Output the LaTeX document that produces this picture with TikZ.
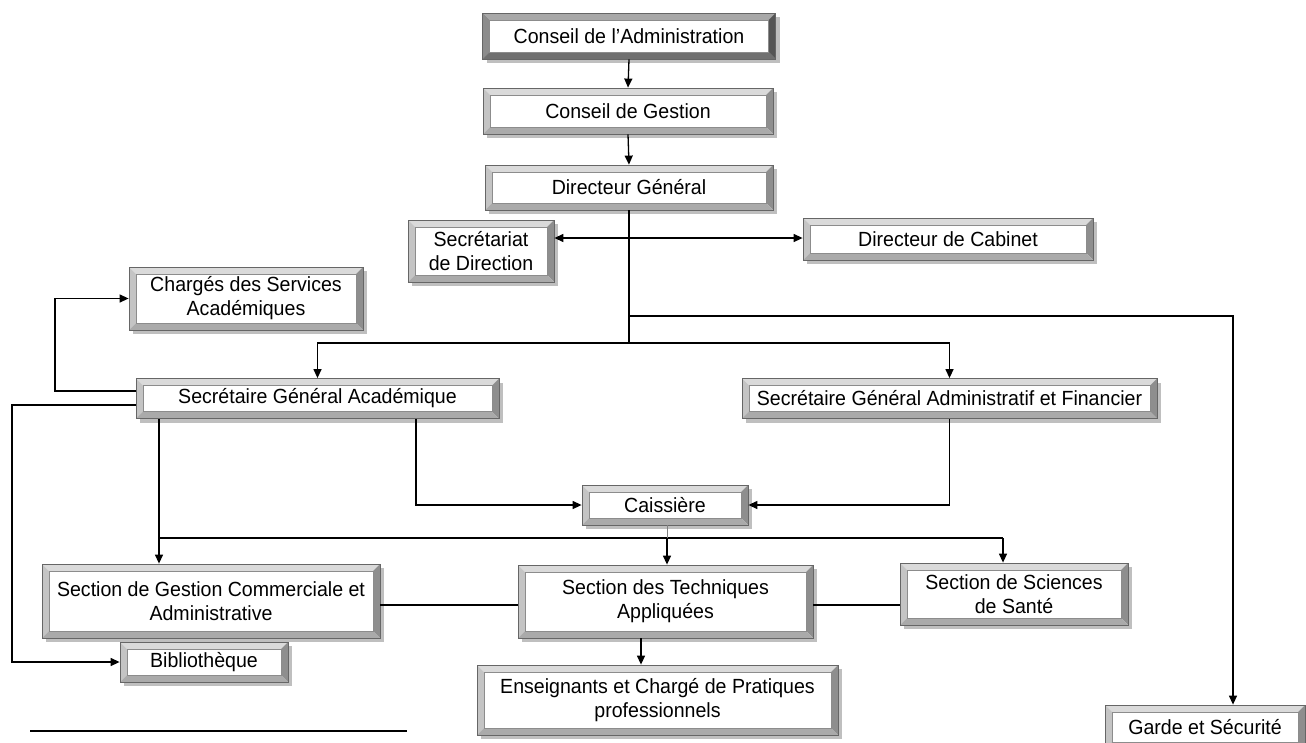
\documentclass[tikz,border=0pt]{standalone}
\usepackage{fontspec}
\setmainfont[FakeStretch=0.955]{Liberation Sans}
\usetikzlibrary{arrows.meta,shadows,calc}
\newcommand{\bevelpic}[4]{%
  \coordinate (bSW) at (path picture bounding box.south west);
  \coordinate (bNE) at (path picture bounding box.north east);
  \coordinate (bNW) at (path picture bounding box.north west);
  \coordinate (bSE) at (path picture bounding box.south east);
  \coordinate (iSW) at ([shift={(7pt,7pt)}]bSW);
  \coordinate (iNE) at ([shift={(-7pt,-7pt)}]bNE);
  \coordinate (iNW) at ([shift={(7pt,-7pt)}]bNW);
  \coordinate (iSE) at ([shift={(-7pt,7pt)}]bSE);
  \fill[#1] (bNW) -- (bNE) -- (iNE) -- (iNW) -- cycle;
  \fill[#2] (bNW) -- (bSW) -- (iSW) -- (iNW) -- cycle;
  \fill[#3] (bNE) -- (bSE) -- (iSE) -- (iNE) -- cycle;
  \fill[#4] (bSW) -- (bSE) -- (iSE) -- (iSW) -- cycle;
  \draw[black!45, line width=0.5pt] (iSW) rectangle (iNE);
}
\definecolor{bt}{HTML}{DADADA}
\definecolor{bl}{HTML}{C4C4C4}
\definecolor{br}{HTML}{8E8E8E}
\definecolor{bb}{HTML}{AAAAAA}
\definecolor{dt}{HTML}{A8A8A8}
\definecolor{dl}{HTML}{8C8C8C}
\definecolor{dr}{HTML}{555555}
\definecolor{db}{HTML}{707070}
\tikzset{
  bevbase/.style={rectangle, inner sep=0pt, align=center, fill=white,
    draw=black!60, line width=0.8pt,
    font=\fontsize{20.5}{24}\selectfont,
    drop shadow={shadow xshift=4pt, shadow yshift=-4pt, fill=black!25, opacity=1}},
  bev/.style={bevbase, path picture={\bevelpic{bt}{bl}{br}{bb}}},
  bevdark/.style={bevbase, path picture={\bevelpic{dt}{dl}{dr}{db}}},
  conn/.style={line width=1.3pt, black},
  arr/.style={conn, -{Triangle[length=9pt,width=8pt]}}
}
\begin{document}
\begin{tikzpicture}[x=1pt,y=-1pt]
\useasboundingbox (0,0) rectangle (1306,742);
% nodes
\node[bevdark, minimum width=293pt, minimum height=46pt] (ca) at (629,36) {Conseil de l’Administration};
\node[bev, minimum width=290pt, minimum height=46pt] (cg) at (628,111) {Conseil de Gestion};
\node[bev, minimum width=288pt, minimum height=45pt] (dg) at (629,187.5) {Directeur Général};
\node[bev, minimum width=146pt, minimum height=62pt] (sd) at (481,251) {Secrétariat\\de Direction};
\node[bev, minimum width=290pt, minimum height=42pt] (dc) at (948,239) {Directeur de Cabinet};
\node[bev, minimum width=234pt, minimum height=63pt] (csa) at (246,298.5) {Chargés des Services\\Académiques};
\node[bev, minimum width=363pt, minimum height=40pt] (sga) at (317.5,398.5) {Secrétaire Général Académique};
\node[bev, minimum width=415pt, minimum height=40pt] (sgaf) at (949.5,398.5) {Secrétaire Général Administratif et Financier};
\node[bev, minimum width=166pt, minimum height=40pt] (cai) at (665,505) {Caissière};
\node[bev, minimum width=338pt, minimum height=74pt] (sgc) at (211,601) {Section de Gestion Commerciale et\\Administrative};
\node[bev, minimum width=295pt, minimum height=73pt] (sta) at (665.5,601.5) {Section des Techniques\\Appliquées};
\node[bev, minimum width=228pt, minimum height=62pt] (sss) at (1014,594) {Section de Sciences\\de Santé};
\node[bev, minimum width=168pt, minimum height=40pt] (bib) at (204,662) {Bibliothèque};
\node[bev, minimum width=361pt, minimum height=70pt] (ens) at (657.5,700) {Enseignants et Chargé de Pratiques\\professionnels};
\node[bev, minimum width=200pt, minimum height=44pt] (gs) at (1205,727) {Garde et Sécurité};
% coordinates
\coordinate (j1) at (629,343);
\coordinate (j2) at (629,238);
\coordinate (j3) at (629,316);
\coordinate (g1) at (1233,316);
\coordinate (a1) at (55,391);
\coordinate (a2) at (12,405);
\coordinate (b1) at (416,0);
\coordinate (c1) at (159,538);
\coordinate (c2) at (1003,538);
\coordinate (c3) at (667,538);
\coordinate (d1) at (641,0);
\coordinate (e1) at (0,605);
\coordinate (l1) at (30,731);
\coordinate (l2) at (407,731);
% connectors
\draw[arr] (ca.south) -- (cg.north);
\draw[arr] (cg.south) -- (dg.north);
\draw[conn] (dg.south) -- (j1);
\draw[arr] (j2) -- (j2 -| sd.east);
\draw[arr] (j2) -- (j2 -| dc.west);
\draw[arr] (j3) -- (g1) -- (g1 |- gs.north);
\draw[arr] (j1) -| (sga.north);
\draw[arr] (j1) -| (sgaf.north);
\draw[arr] (a1 -| sga.west) -- (a1) |- (csa.west);
\draw[arr] (a2 -| sga.west) -- (a2) |- (bib.west);
\draw[arr] (sga.south -| b1) |- (cai.west);
\draw[arr] (sgaf.south) |- (cai.east);
\draw[arr] (sga.south -| c1) -- (c1 |- sgc.north);
\draw[conn] (c1) -- (c2);
\draw[arr] (c3) -- (c3 |- sta.north);
\draw[arr] (c2) -- (c2 |- sss.north);
\draw[black!50, line width=0.6pt] (cai.south -| c3) -- (c3);
\draw[conn] (e1 -| sgc.east) -- (e1 -| sta.west);
\draw[conn] (e1 -| sta.east) -- (e1 -| sss.west);
\draw[arr] (sta.south -| d1) -- (ens.north -| d1);
\draw[conn] (l1) -- (l2);
\end{tikzpicture}
\end{document}
